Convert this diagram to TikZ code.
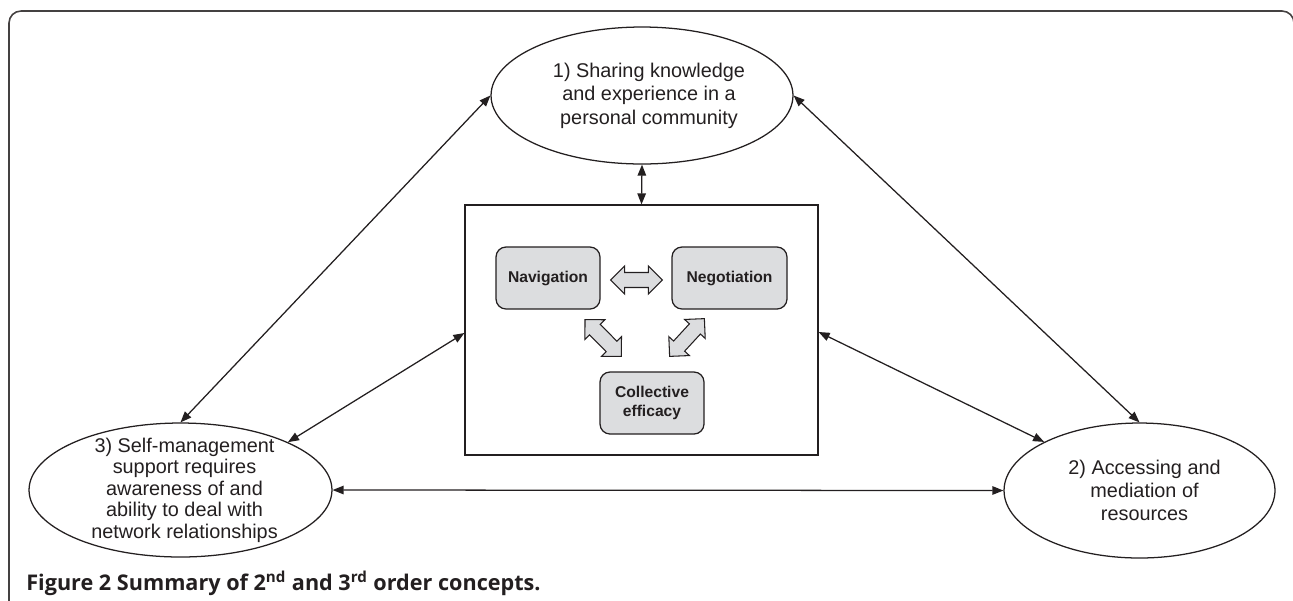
\documentclass[tikz,border=0pt]{standalone}
\usepackage{fontspec}
\setmainfont{Liberation Sans}
\newfontfamily\capfont{Open Sans}
\usetikzlibrary{calc,arrows.meta,shapes.geometric}
\definecolor{ink}{HTML}{231F20}
\definecolor{boxgray}{HTML}{DCDDDF}
\begin{document}
\begin{tikzpicture}[x=0.02cm,y=-0.02cm,
  tip/.tip={Triangle[length=0.22cm,width=0.17cm]},
  conn/.style={draw=ink, line width=0.72pt, {tip}-{tip}},
  concept/.style={ellipse, draw=ink, line width=0.72pt, inner sep=0pt},
  ctext/.style={align=center, inner sep=0pt, text=ink, font=\fontsize{11.3}{13.3}\selectfont},
  theme/.style={rectangle, rounded corners=0.2cm, draw=ink, fill=boxgray, line width=0.72pt,
    align=center, inner sep=0pt, text=ink, font=\fontsize{8.9}{10.4}\selectfont\bfseries},
  corebox/.style={rectangle, draw=ink, line width=0.72pt, inner sep=0pt},
  fat/.style={draw=ink, fill=boxgray, line width=0.6pt, line join=miter, to path={
    -- ($(\tikztostart)!0.396cm!45:(\tikztotarget)$)
    -- ($(\tikztostart)!0.3176cm!28.18:(\tikztotarget)$)
    -- ($(\tikztotarget)!0.3176cm!-28.18:(\tikztostart)$)
    -- ($(\tikztotarget)!0.396cm!-45:(\tikztostart)$)
    -- (\tikztotarget)
    -- ($(\tikztotarget)!0.396cm!45:(\tikztostart)$)
    -- ($(\tikztotarget)!0.3176cm!28.18:(\tikztostart)$)
    -- ($(\tikztostart)!0.3176cm!-28.18:(\tikztotarget)$)
    -- ($(\tikztostart)!0.396cm!-45:(\tikztotarget)$)
    -- cycle}}
]
\useasboundingbox (0,0) rectangle (1293,600);
\begin{scope}
  \clip (0,0) rectangle (1293,600);
  \draw[draw=ink!85, line width=0.9pt, rounded corners=0.24cm] (9,11) rectangle (1294,660);
\end{scope}

% concept ellipses
\node[concept, minimum width=6.04cm, minimum height=2.74cm,
  label={[ctext, xshift=0.14cm]center:1) Sharing knowledge\\and experience in a\\personal community}]
  (e1) at (642,95.5) {};
\node[concept, minimum width=5.42cm, minimum height=2.7cm,
  label={[ctext, xshift=0.1cm]center:2) Accessing and\\mediation of\\resources}]
  (e2) at (1139.5,490.5) {};
\node[concept, minimum width=6.06cm, minimum height=2.68cm,
  label={[ctext, xshift=0.08cm, font=\fontsize{11.3}{12.2}\selectfont]center:3) Self-management\\support requires\\awareness of and\\ability to deal with\\network relationships}]
  (e3) at (180.5,490) {};

% central box
\node[corebox, minimum width=7.06cm, minimum height=5cm] (core) at (641.5,330) {};
\node[theme, minimum width=2.08cm, minimum height=1.24cm] (nav) at (548,278) {Navigation};
\node[theme, minimum width=2.3cm, minimum height=1.24cm] (neg) at (729.5,278) {Negotiation};
\node[theme, minimum width=2.08cm, minimum height=1.24cm] (coll) at (652,403) {Collective\\efficacy};

% fat double arrows
\coordinate (hA) at ($(nav.east)+(10,2)$);
\coordinate (hB) at ($(neg.west)+(-9,2)$);
\coordinate (dA) at ($(nav.south)+(37,10)$);
\coordinate (dB) at ($(coll.north west)+(22,-15)$);
\coordinate (dC) at ($(neg.south west)+(33,9)$);
\coordinate (dD) at ($(coll.north east)+(-35,-15)$);
\draw[fat] (hA) to (hB);
\draw[fat] (dA) to (dB);
\draw[fat] (dC) to (dD);

% connectors
\draw[conn] (e1.south) -- (core.north);
\draw[conn] (e3.north) -- (e1.west);
\draw[conn] (e1.east) -- (e2.north);
\draw[conn] ([yshift=-0.06cm]core.west) -- (e3.24);
\draw[conn] ([yshift=-0.04cm]core.east) -- (e2.153.5);
\draw[conn] (e3.east) -- (e2.west);

% caption
\node[anchor=base west, inner sep=0pt, text=ink, font=\capfont\bfseries\fontsize{12.3}{14}\selectfont]
  (cap) at (26,590) {Figure 2 Summary of 2\textsuperscript{nd} and 3\textsuperscript{rd} order concepts.};
\end{tikzpicture}
\end{document}
